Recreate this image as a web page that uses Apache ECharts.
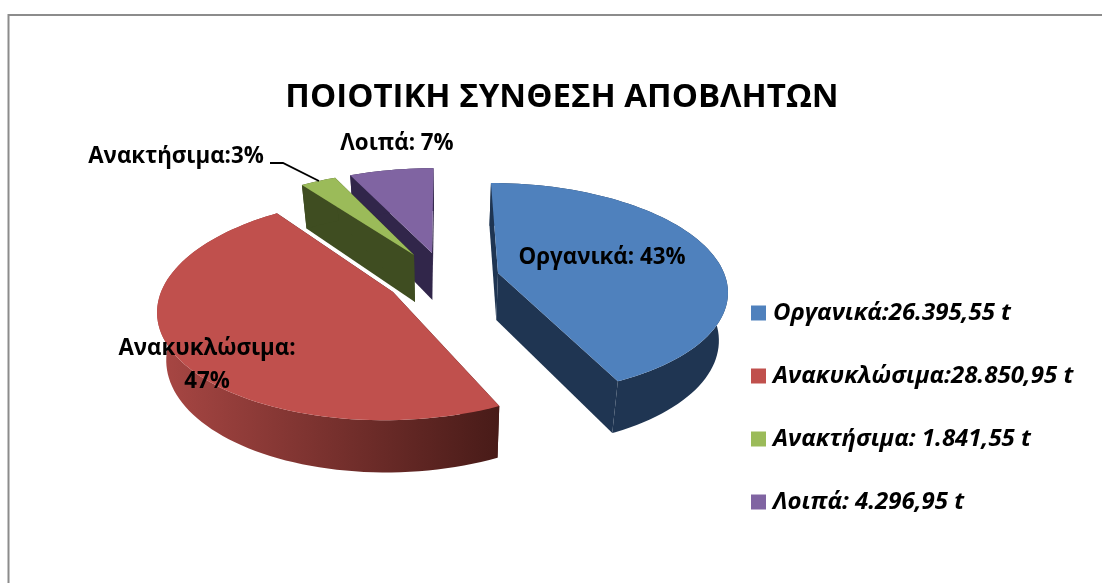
<!DOCTYPE html>
<html>
<head>
<meta charset="utf-8">
<title>ΠΟΙΟΤΙΚΗ ΣΥΝΘΕΣΗ ΑΠΟΒΛΗΤΩΝ</title>
<style>
html, body { margin: 0; padding: 0; background: #fff; }
#chart { width: 1102px; height: 583px; }
</style>
<script src="https://cdn.jsdelivr.net/npm/echarts@6/dist/echarts.min.js"></script>
</head>
<body>
<div id="chart"></div>
<script>
const titleText = 'ΠΟΙΟΤΙΚΗ ΣΥΝΘΕΣΗ ΑΠΟΒΛΗΤΩΝ'
const legendNames = ['Οργανικά:26.395,55 t', 'Ανακυκλώσιμα:28.850,95 t', 'Ανακτήσιμα: 1.841,55 t', 'Λοιπά: 4.296,95 t']
const values = [26395.55, 28850.95, 1841.55, 4296.95]
const sliceLabels = ['Οργανικά: 43%', 'Ανακυκλώσιμα:\n47%', 'Ανακτήσιμα:3%', 'Λοιπά: 7%']

const topColors = ['#4F81BD', '#C0504D', '#9BBB59', '#8064A2']
const wallColors = ['#1F3552', null, '#3F4D21', '#31264A']

// apex of each exploded slice and its radii on screen, fitted to the picture
const sliceBox = [
    { x: 498, y: 273, a: 226, b: 103.5 },
    { x: 393, y: 292, a: 232, b: 109 },
    { x: 414, y: 255, a: 220, b: 97 },
    { x: 432, y: 253, a: 222, b: 97.5 }
]
const labelBox = [[602, 258], [207, 365.5], [176, 157], [397, 144]]

const vanishX = 444
const persp = 0.15
const total = values.reduce(function (s, v) { return s + v }, 0)

function topPoint(box, deg) {
    var r = deg * Math.PI / 180
    var X = Math.sin(r), Y = Math.cos(r)
    var w = 1 + persp * Y
    return { p: [vanishX + (box.x - vanishX + box.a * X) / w, box.y - box.b * Y / w], Y: Y }
}
function lowPoint(tp) {
    return [vanishX + (tp.p[0] - vanishX) * 0.968, tp.p[1] + 47 / (1 + 0.1 * tp.Y)]
}
function quad(a, b, fill) {
    return { type: 'polygon', shape: { points: [a.p, b.p, lowPoint(b), lowPoint(a)] }, style: { fill: fill } }
}
function apexPoint(box) {
    return { p: [box.x, box.y], Y: 0 }
}

function renderSlice(idx) {
    var start = 0
    for (var i = 0; i < idx; i++) start += values[i] / total * 360
    var end = start + values[idx] / total * 360
    var box = sliceBox[idx]
    var arc = []
    for (var d = start; d < end; d += 2) arc.push(topPoint(box, d))
    arc.push(topPoint(box, end))

    var wallFill = wallColors[idx] || new echarts.graphic.LinearGradient(0, 0, 1, 0, [
        { offset: 0, color: '#A94744' },
        { offset: 1, color: '#481B18' }
    ])
    var apex = apexPoint(box)
    var wallPts = arc.map(function (t) { return t.p }).concat(arc.slice().reverse().map(lowPoint))
    var children = [
        quad(apex, arc[0], wallFill.colorStops ? '#481B18' : wallFill),
        quad(apex, arc[arc.length - 1], wallFill.colorStops ? '#481B18' : wallFill),
        { type: 'polygon', shape: { points: wallPts }, style: { fill: wallFill } },
        { type: 'polygon', shape: { points: [apex.p].concat(arc.map(function (t) { return t.p })) }, style: { fill: topColors[idx] } },
        {
            type: 'text',
            style: {
                x: labelBox[idx][0], y: labelBox[idx][1],
                text: sliceLabels[idx],
                fill: '#000',
                font: 'bold 22.3px "Open Sans"',
                align: 'center', verticalAlign: 'middle', lineHeight: 33
            }
        }
    ]
    if (idx === 2) {
        // leader line of the small slice
        children.push({
            type: 'polyline',
            shape: { points: [[270, 163], [283, 163], [319, 181]] },
            style: { stroke: '#000', lineWidth: 1.8, fill: null }
        })
    }
    return { type: 'group', children: children }
}

var seriesList = values.map(function (v, i) {
    return {
        type: 'custom',
        name: legendNames[i],
        coordinateSystem: 'none',
        silent: true,
        z: [4, 3, 2, 1][i],
        itemStyle: { color: topColors[i] },
        data: [v],
        renderItem: function () { return renderSlice(i) }
    }
})

var chart = echarts.init(document.getElementById('chart'))
chart.setOption({
    animation: false,
    backgroundColor: '#fff',
    title: {
        text: titleText,
        left: 557,
        top: 76,
        textAlign: 'center',
        textStyle: { fontFamily: 'Open Sans', fontWeight: 'bold', fontSize: 33, color: '#000' }
    },
    legend: {
        orient: 'vertical',
        left: 751,
        top: 301,
        padding: 0,
        icon: 'rect',
        itemWidth: 15,
        itemHeight: 15,
        itemGap: 39,
        data: legendNames,
        textStyle: { fontFamily: 'Open Sans', fontWeight: 'bold', fontStyle: 'italic', fontSize: 24, color: '#000', padding: [0, 0, 0, 2] }
    },
    graphic: [{
        type: 'polyline',
        silent: true,
        shape: { points: [[8.5, 583], [8.5, 15], [1102, 15]] },
        style: { stroke: '#8C8C8C', lineWidth: 2, fill: null }
    }],
    series: seriesList
})
</script>
</body>
</html>
